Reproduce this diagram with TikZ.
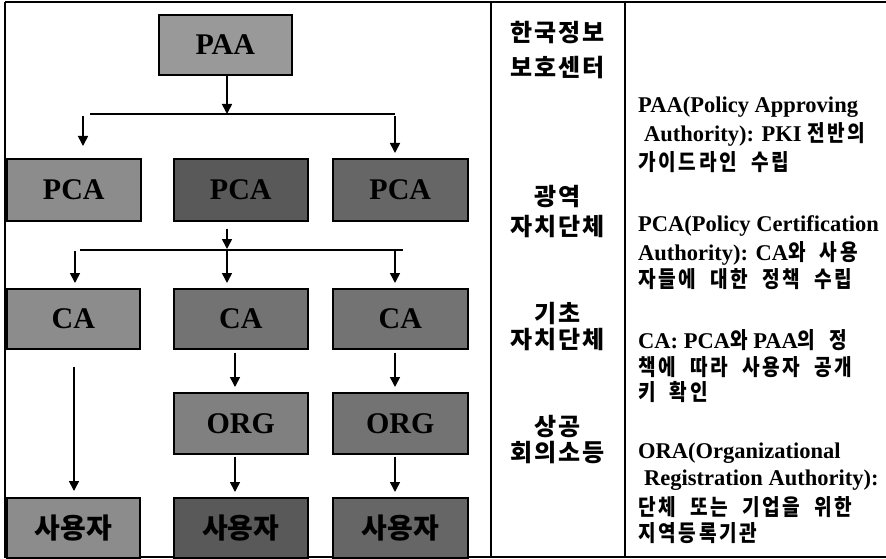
\documentclass[tikz,border=0pt]{standalone}
\usepackage{fontspec}
\setmainfont{Liberation Serif}
\newfontfamily\krfont{Noto Sans CJK KR}
\newfontfamily\krmid{Noto Sans CJK KR}[LetterSpace=8]
\newfontfamily\krn{Noto Sans CJK KR}[FakeStretch=0.85,LetterSpace=12,WordSpace=2]
\usetikzlibrary{arrows.meta}
\tikzset{
  cbox/.style={draw=black, line width=1.6pt, fill=black!#1, inner sep=0pt, anchor=north west,
    minimum width=134pt, minimum height=60pt, font=\bfseries\fontsize{30}{30}\selectfont},
  ubox/.style={cbox=#1, font=\krfont\bfseries\fontsize{28}{28}\selectfont},
  arr/.style={line width=1.6pt, -{Triangle[length=10pt,width=10pt]}},
  bar/.style={line width=1.6pt},
  frameline/.style={line width=1.8pt},
  mid/.style={inner sep=0pt, font=\krmid\bfseries\fontsize{24}{24}\selectfont},
  desc/.style={anchor=west, inner sep=0pt, font=\bfseries\fontsize{22.5}{22.5}\selectfont},
}
\begin{document}
\begin{tikzpicture}[x=1pt,y=-1pt]
\useasboundingbox (0,0) rectangle (886,559);
% frame
\coordinate (ftl) at (5,2);
\coordinate (ftr) at (886,2);
\coordinate (fbl) at (5,557);
\coordinate (fbr) at (886,557);
\coordinate (d1t) at (491,2);
\coordinate (d1b) at (491,557);
\coordinate (d2t) at (625,2);
\coordinate (d2b) at (625,557);
\draw[frameline] (ftl) -- (ftr);
\draw[frameline] (ftl) -- (fbl) -- (fbr);
\draw[frameline] (d1t) -- (d1b);
\draw[frameline] (d2t) -- (d2b);

% boxes
\node[cbox=40, minimum width=133pt] (paa) at (158,14) {PAA};
\node[cbox=45, minimum height=62pt] (pca1) at (6,158) {PCA};
\node[cbox=65, minimum height=62pt] (pca2) at (173,158) {PCA};
\node[cbox=60, minimum height=62pt, minimum width=135pt] (pca3) at (332,158) {PCA};
\node[cbox=45, minimum width=133pt] (ca1) at (6,288) {CA};
\node[cbox=55] (ca2) at (173,288) {CA};
\node[cbox=55, minimum width=135pt] (ca3) at (332,288) {CA};
\node[cbox=50, minimum height=61pt] (org2) at (173,392) {ORG};
\node[cbox=55, minimum height=61pt, minimum width=135pt] (org3) at (332,392) {ORG};
\node[ubox=45, minimum width=133pt] (u1) at (6,497) {사용자};
\node[ubox=65] (u2) at (173,497) {사용자};
\node[ubox=60, minimum width=135pt] (u3) at (332,497) {사용자};

% connectors level 1
\coordinate (j1) at (227,114);
\coordinate (b1l) at (90,114);
\coordinate (b1r) at (395,114);
\coordinate (s1l) at (83,116);
\coordinate (s1r) at (395,116);
\draw[arr] (paa.south -| j1) -- (j1);
\draw[bar] (b1l) -- (b1r);
\draw[arr, shorten >=12pt] (s1l) -- (s1l |- pca1.north);
\draw[arr, shorten >=5pt] (s1r) -- (s1r |- pca3.north);

% connectors level 2
\coordinate (j2) at (227,249);
\coordinate (b2l) at (80,250);
\coordinate (b2r) at (403,250);
\coordinate (s2l) at (75,251);
\coordinate (s2m) at (227,251);
\coordinate (s2r) at (395,251);
\draw[arr, shorten <=7pt] (pca2.south -| j2) -- (j2);
\draw[bar] (b2l) -- (b2r);
\draw[arr, shorten >=5pt] (s2l) -- (s2l |- ca1.north);
\draw[arr, shorten >=5pt] (s2m) -- (s2m |- ca2.north);
\draw[arr, shorten >=5pt] (s2r) -- (s2r |- ca3.north);

% lower connectors
\coordinate (x1) at (74,0);
\coordinate (x2) at (235,0);
\coordinate (x3) at (395,0);
\draw[arr, shorten <=17pt, shorten >=6pt] (ca1.south -| x1) -- (u1.north -| x1);
\draw[arr, shorten <=3pt, shorten >=5pt] (ca2.south -| x2) -- (org2.north -| x2);
\draw[arr, shorten <=3pt, shorten >=5pt] (ca3.south -| x3) -- (org3.north -| x3);
\draw[arr, shorten <=2pt, shorten >=5pt] (org2.south -| x2) -- (u2.north -| x2);
\draw[arr, shorten <=2pt, shorten >=5pt] (org3.south -| x3) -- (u3.north -| x3);

% middle column
\node[mid] (m1) at (558,33) {한국정보};
\node[mid] (m2) at (558,68) {보호센터};
\node[mid] (m3) at (558,197) {광역};
\node[mid] (m4) at (558,227) {자치단체};
\node[mid] (m5) at (558,313) {기초};
\node[mid] (m6) at (558,340) {자치단체};
\node[mid] (m7) at (558,427) {상공};
\node[mid] (m8) at (558,453) {회의소등};

% right column
\node[desc] (r1) at (638,107) {PAA(Policy Approving};
\node[desc] (r2) at (644,134) {Authority): PKI {\krn 전반의}};
\node[desc] (r3) at (638,162) {\krn 가이드라인 수립};
\node[desc] (r4) at (638,226) {PCA(Policy Certification};
\node[desc] (r5) at (638,253) {Authority): CA{\krn 와 사용}};
\node[desc] (r6) at (638,279) {\krn 자들에 대한 정책 수립};
\node[desc] (r7) at (638,340) {CA: PCA{\krn 와} PAA{\krn 의 정}};
\node[desc] (r8) at (638,367) {\krn 책에 따라 사용자 공개};
\node[desc] (r9) at (638,392) {\krn 키 확인};
\node[desc] (r10) at (638,453) {ORA(Organizational};
\node[desc] (r11) at (644,480) {Registration Authority):};
\node[desc] (r12) at (638,507) {\krn 단체 또는 기업을 위한};
\node[desc] (r13) at (638,533) {\krn 지역등록기관};
\end{tikzpicture}
\end{document}
